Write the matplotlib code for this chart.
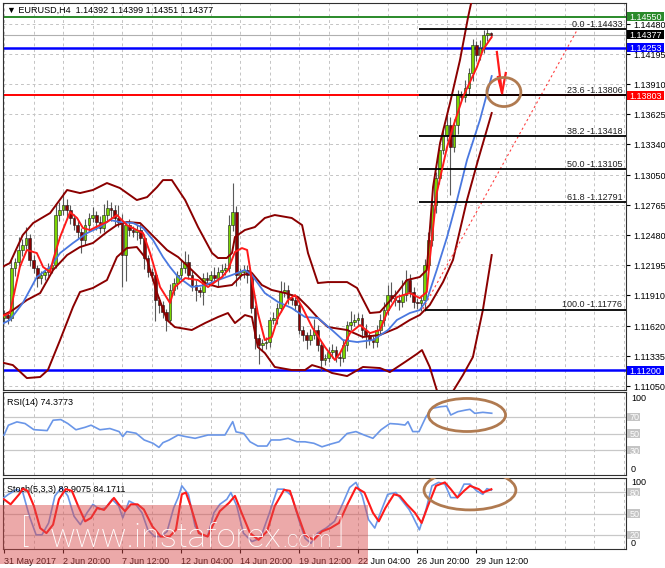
import matplotlib
matplotlib.use("Agg")
import matplotlib.pyplot as plt
from matplotlib.patches import Ellipse, Rectangle
from matplotlib.ticker import MultipleLocator

plt.rcParams['font.family'] = ['Liberation Sans', 'DejaVu Sans']
plt.rcParams['font.size'] = 6.5

# ---------------- data ----------------
open0 = 1.11700
closes = [
    1.11724, 1.11696, 1.12169, 1.12226, 1.12339, 1.12387, 1.12453, 1.12245, 1.12169, 1.12074,
    1.12103, 1.12131, 1.12169, 1.12197, 1.12671, 1.12718, 1.12766, 1.12718, 1.12643, 1.12576,
    1.12510, 1.12434, 1.12576, 1.12643, 1.12671, 1.12605, 1.12548, 1.12671, 1.12737, 1.12718,
    1.12643, 1.12605, 1.12292, 1.12576, 1.12529, 1.12510, 1.12529, 1.12453, 1.12264, 1.12131,
    1.12103, 1.11866, 1.11819, 1.11752, 1.11677, 1.11961, 1.12027, 1.12103, 1.12169, 1.12226,
    1.12103, 1.12008, 1.11961, 1.11942, 1.12074, 1.12055, 1.12103, 1.12074, 1.12131, 1.12150,
    1.12169, 1.12576, 1.12699, 1.12103, 1.12131, 1.12150, 1.12103, 1.11790, 1.11506, 1.11440,
    1.11459, 1.11468, 1.11677, 1.11696, 1.11790, 1.11942, 1.11961, 1.11885, 1.11866, 1.11819,
    1.11582, 1.11535, 1.11487, 1.11535, 1.11582, 1.11440, 1.11298, 1.11317, 1.11374, 1.11392,
    1.11326, 1.11317, 1.11440, 1.11629, 1.11658, 1.11677, 1.11696, 1.11582, 1.11535, 1.11487,
    1.11468, 1.11582, 1.11677, 1.11771, 1.11913, 1.11885, 1.11866, 1.11847, 1.11913, 1.12055,
    1.11942, 1.11847, 1.11838, 1.11866, 1.12197, 1.12434, 1.12766, 1.13021, 1.13286, 1.13429,
    1.13523, 1.13315, 1.13523, 1.13807, 1.13788, 1.13874, 1.14016, 1.14281, 1.14186, 1.14252,
    1.14376, 1.14392, 1.14377,
]
# wick lengths in pips above / below the candle body
up_wick = [
    5, 3, 8, 4, 12, 6, 10, 4, 5, 3,
    4, 3, 5, 3, 10, 8, 12, 6, 5, 4,
    5, 4, 6, 5, 8, 4, 6, 10, 8, 6,
    5, 12, 8, 4, 6, 4, 5, 6, 4, 3,
    4, 5, 3, 4, 3, 6, 5, 4, 8, 10,
    8, 4, 5, 3, 5, 6, 4, 8, 5, 6,
    5, 10, 28, 6, 4, 5, 5, 4, 3, 4,
    4, 5, 3, 6, 5, 10, 8, 5, 4, 3,
    5, 4, 3, 6, 10, 5, 3, 4, 5, 6,
    4, 6, 5, 4, 10, 6, 5, 4, 6, 3,
    4, 5, 6, 8, 10, 12, 8, 6, 14, 10,
    6, 5, 4, 5, 6, 8, 5, 6, 5, 8,
    10, 8, 6, 5, 4, 8, 5, 6, 4, 8,
    5, 4, 1,
]
down_wick = [
    4, 6, 3, 8, 5, 6, 4, 6, 5, 8,
    6, 5, 4, 5, 3, 6, 5, 8, 6, 5,
    6, 12, 5, 6, 4, 8, 5, 4, 6, 10,
    8, 5, 30, 25, 6, 5, 8, 6, 10, 5,
    6, 20, 8, 6, 10, 4, 5, 6, 4, 5,
    4, 6, 10, 5, 12, 5, 6, 4, 8, 5,
    5, 4, 6, 10, 5, 6, 8, 5, 10, 18,
    5, 6, 5, 4, 6, 4, 5, 6, 5, 6,
    4, 6, 8, 5, 4, 6, 10, 5, 4, 6,
    5, 8, 4, 6, 5, 4, 6, 8, 12, 5,
    6, 5, 4, 6, 5, 4, 6, 8, 5, 6,
    5, 6, 6, 8, 10, 5, 6, 8, 6, 4,
    6, 45, 5, 8, 4, 5, 6, 8, 6, 5,
    5, 6, 3,
]

bb_up_x = [-1.1, 1.6, 5.1, 7.9, 12.5, 17.1, 20.6, 24.1, 27.9, 31.4, 36, 38.8, 41.5, 43.1, 45.5,
           49.1, 52.6, 56.4, 58, 60.4, 61.8, 62.6, 65.3, 68, 70.7, 73.4, 78, 80.8, 82.4, 85.1,
           87.8, 93, 95.7, 99.2, 101.9, 106.5, 109.2, 112.7, 114.6, 116.3, 118.2, 120.9, 123.6,
           125.8, 126.8, 129.5, 132.2]
bb_up = [1.12169, 1.12216, 1.12482, 1.12595, 1.12690, 1.12908, 1.12879, 1.12908, 1.12974, 1.12927,
         1.12813, 1.12841, 1.12936, 1.13002, 1.13002, 1.12813, 1.12557, 1.12311, 1.12264, 1.12264,
         1.12311, 1.12463, 1.12529, 1.12557, 1.12643, 1.12671, 1.12643, 1.12576, 1.12311, 1.12027,
         1.12036, 1.12036, 1.11980, 1.11743, 1.11752, 1.11932, 1.12055, 1.12084, 1.12150, 1.12936,
         1.13353, 1.13732, 1.14139, 1.14546, 1.14707, 1.14944, 1.14982]

bb_mid_x = [-1.1, 2.4, 6.2, 9.8, 13.3, 17.1, 20.6, 24.1, 27.9, 30.6, 33.3, 36.9, 38.8, 41.5, 44.2,
            47.2, 50.9, 54.5, 58, 61.8, 64.5, 67.2, 69.9, 72.6, 76.2, 79.7, 82.4, 85.1, 87.8, 93,
            97.3, 101.9, 106.5, 110, 112.7, 115.4, 119, 121.7, 125.5, 128.5, 132.2]
bb_mid = [1.11705, 1.11771, 1.11866, 1.11932, 1.12150, 1.12292, 1.12368, 1.12406, 1.12510, 1.12576,
          1.12605, 1.12595, 1.12529, 1.12434, 1.12339, 1.12273, 1.12150, 1.12027, 1.11989, 1.12008,
          1.12103, 1.12122, 1.12008, 1.11961, 1.11932, 1.11894, 1.11800, 1.11696, 1.11610, 1.11582,
          1.11516, 1.11535, 1.11601, 1.11677, 1.11724, 1.11819, 1.12036, 1.12245, 1.12813, 1.13192,
          1.13637]

bb_low_x = [-1.1, 2.4, 6.2, 9.8, 11.9, 15.2, 18.7, 20.6, 24.1, 27.9, 30.6, 33.3, 36, 38.8, 41.5,
            44.2, 46.3, 50.9, 54.5, 58, 60.7, 62.6, 65.3, 67.2, 68.8, 70.7, 73.4, 78, 81.6, 83.5,
            86.2, 88.9, 93, 97.3, 101.9, 104.6, 108.7, 111.9, 113.3, 115.4, 117.3, 119, 121.4,
            124.4, 127.1, 129.8, 132.2]
bb_low = [1.11279, 1.11250, 1.11127, 1.11137, 1.11203, 1.11487, 1.11800, 1.11942, 1.11980, 1.12055,
          1.12273, 1.12358, 1.12368, 1.12245, 1.11932, 1.11677, 1.11610, 1.11582, 1.11648, 1.11705,
          1.11743, 1.11648, 1.11724, 1.11705, 1.11421, 1.11364, 1.11232, 1.11203, 1.11203, 1.11250,
          1.11222, 1.11175, 1.11146, 1.11232, 1.11222, 1.11184, 1.11279, 1.11355, 1.11392, 1.11232,
          1.11014, 1.10938, 1.10985, 1.11156, 1.11326, 1.11771, 1.12292]

ma_slow_x = [-1.1, 1.6, 5.1, 8.9, 12.5, 15.2, 18.7, 22.5, 26, 28.7, 31.4, 35, 37.7, 40.4, 43.1, 45,
             47.2, 50.9, 54.5, 58, 61.8, 65.3, 67.2, 70.7, 74.3, 78, 81.6, 85.1, 88.9, 91.9, 95.7,
             100, 104.1, 106.5, 110, 112.7, 114.6, 117.3, 120.1, 122.8, 125.5, 129, 132.2]
ma_slow = [1.11629, 1.11677, 1.11838, 1.12084, 1.12179, 1.12311, 1.12406, 1.12500, 1.12557, 1.12624,
           1.12605, 1.12595, 1.12548, 1.12434, 1.12273, 1.12179, 1.12084, 1.11989, 1.12008, 1.12055,
           1.12103, 1.12150, 1.12103, 1.11932, 1.11847, 1.11790, 1.11705, 1.11696, 1.11582, 1.11487,
           1.11468, 1.11487, 1.11582, 1.11677, 1.11743, 1.11771, 1.11866, 1.12150, 1.12463, 1.12813,
           1.13192, 1.13571, 1.13987]

ma_fast_x = [-1.1, 1.6, 4.3, 6.2, 8.9, 10.6, 12.5, 13.3, 15.2, 17.9, 19.8, 21.4, 23.3, 26, 27.9,
             30.6, 33.3, 36, 37.7, 39.6, 42.3, 45, 46.3, 49.1, 52.6, 55.3, 59.1, 60.7, 62.6, 64.5,
             65.9, 67.2, 68.8, 70.7, 72.6, 74.3, 77, 78.9, 80.8, 83.5, 87, 89.7, 91.1, 93.8, 96.5,
             99.2, 101.9, 103.8, 106.5, 110, 112.7, 114.6, 115.4, 117.3, 120.1, 121.7, 124.4,
             128.2, 129.8, 132.2]
ma_fast = [1.11705, 1.11743, 1.12179, 1.12340, 1.12311, 1.12179, 1.12131, 1.12245, 1.12463, 1.12699,
           1.12643, 1.12548, 1.12529, 1.12576, 1.12605, 1.12671, 1.12576, 1.12529, 1.12500, 1.12311,
           1.11989, 1.11838, 1.11989, 1.12074, 1.12055, 1.11989, 1.12084, 1.12150, 1.12321, 1.12358,
           1.12340, 1.12055, 1.11743, 1.11487, 1.11516, 1.11705, 1.11866, 1.11913, 1.11800, 1.11610,
           1.11421, 1.11298, 1.11364, 1.11553, 1.11629, 1.11553, 1.11582, 1.11743, 1.11894, 1.11932,
           1.11885, 1.11942, 1.12245, 1.12879, 1.13315, 1.13504, 1.13788, 1.14073, 1.14234, 1.14357]

fib_names = ["0.0", "23.6", "38.2", "50.0", "61.8", "100.0"]
fib_prices = [1.14433, 1.13806, 1.13418, 1.13105, 1.12791, 1.11776]
fib_start = [112.5, 112.5, 112.5, 112.5, 112.5, 114.0]

trend_x = [113.5, 155.3]
trend_y = [1.1178, 1.1442]

price_ticks = [1.14480, 1.14195, 1.13910, 1.13625, 1.13340, 1.13050, 1.12765,
               1.12480, 1.12195, 1.11910, 1.11620, 1.11335, 1.11050]
levels = [(1.14550, '#2a8a2a', 1.4), (1.14253, '#0000ff', 1.8),
          (1.13803, '#ff0000', 1.4), (1.11200, '#0000ff', 1.8)]
price_boxes = [(1.14550, '#2a8a2a'), (1.14377, '#000000'), (1.14253, '#0000ff'),
               (1.13803, '#ff0000'), (1.11200, '#0000ff')]
bid = 1.14377

rsi_x = [0, 1.2, 3.5, 5.7, 8.1, 11.7, 13.3, 15.4, 17.3, 19.5, 22, 23.6, 26, 28.7, 31.2, 32.2, 33.3,
         35.8, 38, 40.4, 42, 43.1, 44.7, 47.2, 49.3, 51.8, 55.3, 57.5, 59.9, 62, 62.9, 65, 66.7,
         68.8, 71.3, 72.4, 74.8, 77, 79.4, 81.6, 84, 86.2, 88.6, 90.8, 93, 95.4, 97.6, 100, 102.2,
         104.6, 106.8, 108.7, 109.5, 110.8, 112.5, 114.4, 116, 118.4, 120, 121.1, 123, 125.2, 126.3,
         127.6, 129.8, 132.2]
rsi = [48, 60, 64, 62, 54.6, 53.5, 66, 66.8, 62, 54.5, 57.5, 60, 54.5, 56, 52.3, 46.2, 52.3,
       50.3, 42.2, 38.2, 33.3, 39, 42, 48.2, 46.2, 44.2, 48.2, 48.2, 48.2, 64.3, 52, 50, 40,
       34.9, 34.9, 42.2, 42.2, 44.2, 40, 40, 38.2, 34, 37.3, 40, 50, 52.3, 48.2, 44.2, 54.5,
       62, 61.3, 60.2, 64.3, 52.3, 52.3, 70.3, 80.3, 82.3, 83, 72.3, 76.3, 78.3, 79.1,
       74.3, 75.5, 74.4]

stoch_k_x = [0, 1.2, 3.5, 5.1, 6.9, 8.7, 10.3, 12.1, 13.8, 15.6, 17.3, 19, 20.7, 22.5, 24.1, 25.9,
             27.6, 29.3, 31.1, 32.2, 33.9, 35.7, 37.4, 39, 40.8, 42.5, 44.2, 46, 47.2, 48.2, 50,
             51.8, 53.4, 55.2, 56.9, 58.5, 60.4, 61.5, 63.1, 64.9, 67.2, 69.5, 71.8, 74.1, 75.9,
             78, 79.9, 81.6, 83.2, 85, 87.3, 89.6, 91.9, 93.7, 95.4, 97.1, 98.8, 100.5, 102.2, 104,
             106.2, 108, 109.8, 110.8, 112.6, 114.4, 116, 117.8, 119.5, 121.1, 122.9, 124.7, 126.3,
             128.1, 129.8, 130.9, 132.1]
stoch_k = [72.4, 77, 84, 79.5, 46, 20, 20, 36.7, 74.8, 86.7, 74.8, 46, 34.3, 51, 62.9, 55.7,
           58, 70, 60.5, 43.8, 67.6, 62.9, 51, 27, 17.6, 17.6, 24.8, 58, 72.4, 89, 77,
           31.9, 20, 17.6, 51, 62.9, 70, 79.5, 60.5, 22.4, 10.5, 15.2, 48.6, 84.3, 84.3,
           74.8, 41.4, 15.2, 8, 22.4, 29.5, 39, 65, 86.7, 93.8, 74.8, 41.4, 29.5, 53.3, 77,
           79.5, 67.6, 55.7, 46, 27, 55.7, 89, 93.8, 91.4, 72.4, 72.4, 91.4, 91.4,
           81.9, 77, 85, 82.9]
stoch_d_x = [0, 1.8, 4.1, 5.1, 6.4, 8.1, 9.8, 11.5, 13.3, 14.9, 16.7, 18.4, 20.1, 22, 23.6, 25.3,
             27.1, 28.7, 29.8, 31.1, 32.8, 34.4, 36.2, 37.9, 40.2, 42.5, 44.9, 46.6, 48.2, 49.3,
             50.6, 52.8, 55.2, 56.9, 58.5, 61, 62.6, 64.4, 66.7, 69, 71.3, 73.4, 75.9, 77.5, 79.3,
             81.6, 83.9, 86.2, 88.5, 90.8, 93.1, 95.4, 97.7, 100, 101.6, 103.4, 105.7, 107.3,
             109.2, 111.4, 113.2, 114.9, 117.1, 119.5, 121.1, 122.9, 124.7, 126.3, 128.7, 129.8,
             132.1]
stoch_d = [70, 62.9, 77, 85, 81.9, 60.5, 29.5, 22.4, 34.3, 70, 84.3, 81.9, 60.5, 39, 43.8, 58,
           55, 65, 72, 62.9, 53.3, 62.9, 62.9, 55.7, 31.9, 17.6, 17.6, 27, 77, 79.5,
           60.5, 22.4, 17.6, 36.7, 53.3, 65, 74.8, 51, 22.4, 12.9, 24.8, 60.5, 83.3, 81.9, 53.3,
           20, 12.9, 24.8, 29.5, 36.7, 62.9, 86.7, 79.5, 51, 39, 58, 77, 74.8,
           62.9, 51, 36.7, 60.5, 89, 93.8, 84.3, 72.4, 81.9, 89, 84.3, 79.5,
           84.2]

date_ticks = [0, 16, 32, 48, 64, 80, 96, 112, 128]
date_labels = ["31 May 2017", "2 Jun 20:00", "7 Jun 12:00", "12 Jun 04:00", "14 Jun 20:00",
               "19 Jun 12:00", "22 Jun 04:00", "26 Jun 20:00", "29 Jun 12:00"]

# ---------------- layout ----------------
W, H = 665, 568
fig = plt.figure(figsize=(W / 100, H / 100), dpi=100, facecolor='white')


def panel(top, bottom, left=3, right=626):
    return [left / W, 1 - bottom / H, (right - left) / W, (bottom - top) / H]


ax = fig.add_axes(panel(3, 390))
ax_rsi = fig.add_axes(panel(392, 475))
ax_st = fig.add_axes(panel(478, 549))
AXW = 623.0  # axes width in pixels

XMIN, XMAX = -0.27, 168.6
grid_kw = dict(color='#c4c4c4', linestyle=(0, (3, 3)), linewidth=0.7)
brown = '#b07a50'


def side_box(a, y, half, text, fc, tc, width_px):
    # coloured label box sitting just right of the panel
    tr = a.get_yaxis_transform()
    a.add_patch(Rectangle((1 + 1 / AXW, y - half), width_px / AXW, 2 * half, transform=tr,
                          fc=fc, ec='none', clip_on=False, zorder=20))
    a.text(1 + 3.5 / AXW, y, text, transform=tr, ha='left', va='center_baseline', fontsize=6.5,
           color=tc, clip_on=False, zorder=21)


for a in (ax, ax_rsi, ax_st):
    a.set_xlim(XMIN, XMAX)
    a.xaxis.set_major_locator(MultipleLocator(8))
    a.grid(True, axis='x', **grid_kw)
    a.set_axisbelow(True)
    for s in a.spines.values():
        s.set_color('#303030')
        s.set_linewidth(0.8)

# ---------------- main price panel ----------------
ax.set_ylim(1.11014, 1.14679)
ax.set_yticks(price_ticks)
ax.set_yticklabels(["%.5f" % p for p in price_ticks])
ax.yaxis.tick_right()
ax.tick_params(axis='y', length=3, pad=2.5, labelsize=6.5, colors='#000000')
ax.tick_params(axis='x', length=0, labelbottom=False)
ax.grid(True, axis='y', **grid_kw)

ax.axhline(bid, color='#b0b0b0', lw=0.8, zorder=1)
for price, col, lw in levels:
    ax.axhline(price, color=col, lw=lw, zorder=2)

bars = list(range(len(closes)))
opens = [open0] + closes[:-1]
highs = [max(o, c) + u * 1e-4 for o, c, u in zip(opens, closes, up_wick)]
lows = [min(o, c) - d * 1e-4 for o, c, d in zip(opens, closes, down_wick)]
ax.vlines(bars, lows, highs, color='#5a5a5a', lw=0.8, zorder=3)
bottoms = [min(o, c) for o, c in zip(opens, closes)]
heights = [max(abs(c - o), 0.00002) for o, c in zip(opens, closes)]
colors = ['#7ad400' if c >= o else '#8b0000' for o, c in zip(opens, closes)]
ax.bar(bars, heights, bottom=bottoms, width=0.72, color=colors,
       edgecolor='#1a1a1a', linewidth=0.4, zorder=4)

ax.plot(bb_up_x, bb_up, color='#8b0000', lw=1.4, zorder=5)
ax.plot(bb_mid_x, bb_mid, color='#8b0000', lw=1.4, zorder=5)
ax.plot(bb_low_x, bb_low, color='#8b0000', lw=1.4, zorder=5)
ax.plot(ma_slow_x, ma_slow, color='#4a78e0', lw=1.3, zorder=6)
ax.plot(ma_fast_x, ma_fast, color='#ff1a1a', lw=1.4, zorder=7)
ax.plot(trend_x, trend_y, color='#ff4040', lw=0.8, linestyle=(0, (2, 2.5)), zorder=5)

for name, price, x0 in zip(fib_names, fib_prices, fib_start):
    ax.hlines(price, x0, XMAX, color='#000000', lw=1.3, zorder=6)
    ax.text(0.994, price + 0.00003, "%s -%.5f" % (name, price), transform=ax.get_yaxis_transform(),
            ha='right', va='bottom', fontsize=6.5, color='#202020', zorder=8)

half_px = 0.0000947 * 4.5
for price, col in price_boxes:
    side_box(ax, price, half_px, "%.5f" % price, col, 'white', 37)

ax.text(0.006, 0.992, "\u25bc EURUSD,H4  1.14392 1.14399 1.14351 1.14377",
        transform=ax.transAxes, ha='left', va='top', fontsize=6.5, color='#000000', zorder=20)

# arrow and circle on the chart
ax.plot([133.6, 134.3, 135.0], [1.14215, 1.14020, 1.13826], color='#ff1a1a', lw=1.6, zorder=9)
ax.plot([133.9, 135.0, 136.0], [1.13978, 1.13826, 1.14016], color='#ff1a1a', lw=1.6, zorder=9)
ax.add_patch(Ellipse((135.5, 1.13836), 9.2, 0.00275, fill=False, ec=brown, lw=2, zorder=9))

# ---------------- RSI panel ----------------
ax_rsi.set_ylim(0, 100)
ax_rsi.set_yticks([])
ax_rsi.tick_params(axis='x', length=0, labelbottom=False)
for lv in (70, 50, 30):
    ax_rsi.axhline(lv, color='#c8c8c8', lw=0.9, zorder=1)
ax_rsi.plot(rsi_x, rsi, color='#6a96e8', lw=1.2, zorder=3)
ax_rsi.add_patch(Ellipse((125.5, 72.3), 20.9, 39.8, fill=False, ec=brown, lw=2, zorder=5))
ax_rsi.text(0.006, 0.93, "RSI(14) 74.3773", transform=ax_rsi.transAxes, ha='left', va='top',
            fontsize=6.5, color='#000000')
yt = ax_rsi.get_yaxis_transform()
ax_rsi.text(1 + 5 / AXW, 92, "100", transform=yt, ha='left', va='center', fontsize=6.5, clip_on=False)
ax_rsi.text(1 + 5 / AXW, 7, "0", transform=yt, ha='left', va='center', fontsize=6.5, clip_on=False)
for lv in (70, 50, 30):
    side_box(ax_rsi, lv, 5.0, str(lv), '#c4c4c4', '#ffffff', 13)

# ---------------- Stochastic panel ----------------
ax_st.set_ylim(0, 100)
ax_st.set_yticks([])
for lv in (80, 50, 20):
    ax_st.axhline(lv, color='#c8c8c8', lw=0.9, zorder=1)
ax_st.plot(stoch_k_x, stoch_k, color='#6a96e8', lw=1.2, zorder=3)
ax_st.plot(stoch_d_x, stoch_d, color='#ff1a1a', lw=1.5, zorder=4)
ax_st.add_patch(Ellipse((126.3, 82.9), 24.9, 55.7, fill=False, ec=brown, lw=2, zorder=5))
ax_st.text(0.006, 0.9, "Stoch(5,3,3) 82.9075 84.1711", transform=ax_st.transAxes, ha='left',
           va='top', fontsize=6.5, color='#000000')
yt = ax_st.get_yaxis_transform()
ax_st.text(1 + 5 / AXW, 94, "100", transform=yt, ha='left', va='center', fontsize=6.5, clip_on=False)
ax_st.text(1 + 5 / AXW, 8, "0", transform=yt, ha='left', va='center', fontsize=6.5, clip_on=False)
for lv in (80, 50, 20):
    side_box(ax_st, lv, 6.0, str(lv), '#c4c4c4', '#ffffff', 13)

ax_st.set_xticks(date_ticks)
ax_st.set_xticklabels(date_labels)
ax_st.xaxis.set_minor_locator(MultipleLocator(8))
ax_st.grid(True, axis='x', which='both', **grid_kw)
ax_st.tick_params(axis='x', which='major', length=3, pad=2.5, labelsize=6.5, colors='#000000')
ax_st.tick_params(axis='x', which='minor', length=0)
for lab in ax_st.get_xticklabels():
    lab.set_horizontalalignment('left')

# ---------------- watermark ----------------
fig.add_artist(Rectangle((0, 1 - 564 / H), 368 / W, (564 - 505) / H, transform=fig.transFigure,
                         fc='#d84c4c', ec='none', alpha=0.48, zorder=10))
wm = dict(color='white', zorder=11, family=['Roboto', 'DejaVu Sans'], fontweight='light')
t_br1 = fig.text(21 / W, 1 - 533 / H, "[", fontsize=24, ha='left', va='center', **wm)
t_www = fig.text(50 / W, 1 - 547 / H, "www.instaforex", fontsize=24, ha='left', va='baseline', **wm)
t_com = fig.text(282 / W, 1 - 547 / H, ".com", fontsize=16, ha='left', va='baseline', **wm)
t_br2 = fig.text(336 / W, 1 - 533 / H, "]", fontsize=24, ha='left', va='center', **wm)

# fit the watermark words to their widths in the picture
fig.canvas.draw()
r = fig.canvas.get_renderer()
for t, target in ((t_www, 232.0), (t_com, 50.0)):
    w = t.get_window_extent(r).width
    t.set_fontsize(t.get_fontsize() * target / w)

fig.savefig("out.png", dpi=100, facecolor='white')
